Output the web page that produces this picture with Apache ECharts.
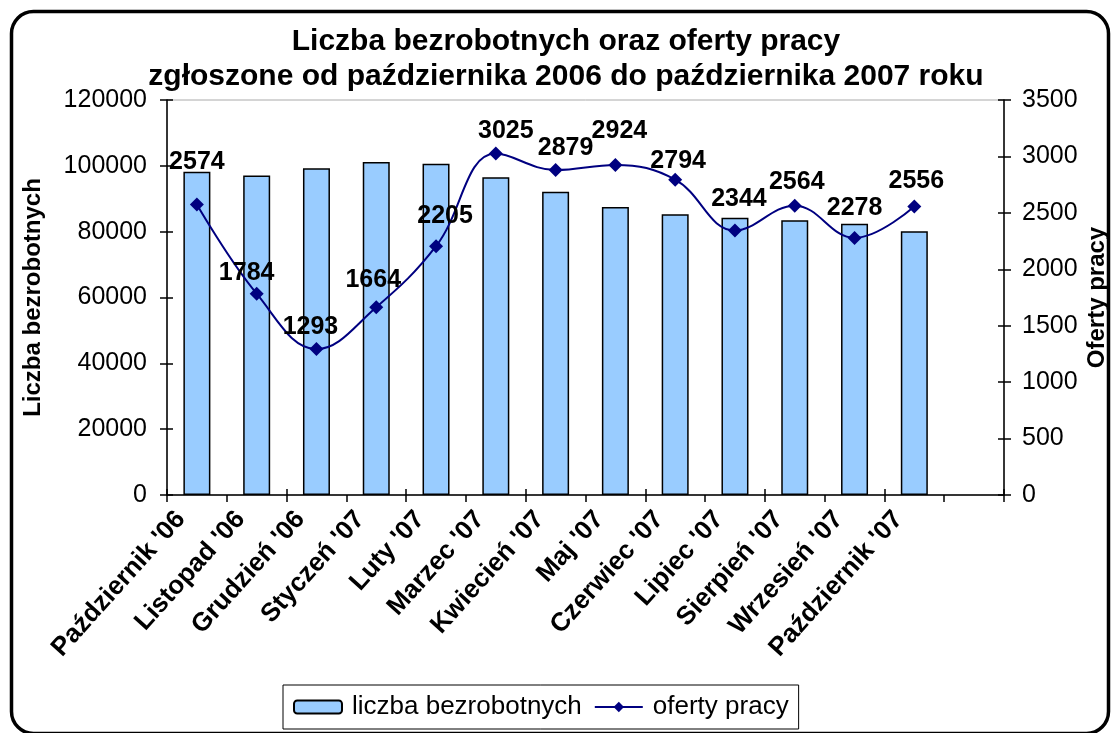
<!DOCTYPE html>
<html>
<head>
<meta charset="utf-8">
<script src="https://cdn.jsdelivr.net/npm/echarts@6/dist/echarts.min.js"></script>
<style>
html,body{margin:0;padding:0;background:#fff;}
#chart{width:1113px;height:733px;}
</style>
</head>
<body>
<div id="chart"></div>
<script>
const categories = ["Październik '06","Listopad '06","Grudzień '06","Styczeń '07","Luty '07","Marzec '07","Kwiecień '07","Maj '07","Czerwiec '07","Lipiec '07","Sierpień '07","Wrzesień '07","Październik '07",""];
const unemployed = [98200, 97100, 99300, 101200, 100600, 96500, 92100, 87500, 85300, 84200, 83500, 82400, 80100];
const jobOffers = [2574, 1784, 1293, 1664, 2205, 3025, 2879, 2924, 2794, 2344, 2564, 2278, 2556];
const titleLines = ["Liczba bezrobotnych oraz oferty pracy", "zgłoszone od października 2006 do października 2007 roku"];

// label nudges (style only): [dx, dy] in px for each data label of the line
const labelNudges = [[0,-15],[-10,7],[-6,6],[-3,0],[9,-3],[10,5],[10,6],[4,-6],[3,9],[4,-4],[2,4],[0,-2],[2,2]];

const FONT = "'Liberation Sans', Arial, sans-serif";
const chart = echarts.init(document.getElementById('chart'), null, {renderer: 'canvas'});

const axisLineStyle = {show: true, lineStyle: {color: '#000', width: 1.5}};
const plain = v => String(v);
const option = {
  backgroundColor: '#fff',
  animation: false,
  title: {
    text: titleLines.join('\n'),
    left: 561, top: 19, textAlign: 'center',
    textStyle: {fontFamily: FONT, fontWeight: 'bold', fontSize: 30, lineHeight: 35, color: '#000'}
  },
  legend: {
    left: 283, top: 685,
    padding: [9, 10, 9, 10],
    itemGap: 12, itemWidth: 48, itemHeight: 13,
    borderColor: '#000', borderWidth: 1,
    textStyle: {fontFamily: FONT, fontSize: 26, color: '#000', padding: [0, 0, 0, 5]},
    data: ['liczba bezrobotnych', 'oferty pracy']
  },
  grid: {left: 167, right: 109, top: 100, bottom: 238, containLabel: false, outerBoundsMode: 'none',
    show: true, borderColor: '#aaa', borderWidth: 1},
  xAxis: [{
    type: 'category', data: categories, boundaryGap: true,
    axisLine: axisLineStyle,
    axisTick: {show: true, alignWithLabel: false, length: 7, lineStyle: {color: '#000', width: 1.5}},
    axisLabel: {interval: 0, rotate: 48, margin: 2, padding: [0, 24, 0, 0], fontFamily: FONT, fontWeight: 'bold', fontSize: 26, color: '#000'}
  }, {
    type: 'category', data: categories, boundaryGap: true, position: 'bottom',
    axisLine: {show: false},
    axisTick: {show: true, inside: true, length: 6, lineStyle: {color: '#000', width: 1.5}},
    axisLabel: {show: false}
  }],
  yAxis: [{
    type: 'value', min: 0, max: 120000, interval: 20000, position: 'left',
    name: 'Liczba bezrobotnych', nameLocation: 'middle', nameGap: 122, nameRotate: 90,
    nameTextStyle: {fontFamily: FONT, fontWeight: 'bold', fontSize: 24, color: '#000'},
    axisLine: axisLineStyle,
    axisTick: {show: true, length: 7, lineStyle: {color: '#000', width: 1.5}},
    axisLabel: {margin: 20, formatter: plain, fontFamily: FONT, fontSize: 25, color: '#000'},
    splitLine: {show: false}
  }, {
    type: 'value', min: 0, max: 3500, interval: 500, position: 'right',
    name: 'Oferty pracy', nameLocation: 'middle', nameGap: 81, nameRotate: 90, nameMoveOverlap: false,
    nameTextStyle: {fontFamily: FONT, fontWeight: 'bold', fontSize: 24, color: '#000'},
    axisLine: axisLineStyle,
    axisTick: {show: true, length: 7, lineStyle: {color: '#000', width: 1.5}},
    axisLabel: {margin: 18, formatter: plain, fontFamily: FONT, fontSize: 25, color: '#000'},
    splitLine: {show: false}
  }, {
    type: 'value', min: 0, max: 120000, interval: 20000, position: 'left',
    axisLine: {show: false}, axisTick: {show: true, inside: true, length: 6, lineStyle: {color: '#000', width: 1.5}},
    axisLabel: {show: false}, splitLine: {show: false}
  }, {
    type: 'value', min: 0, max: 3500, interval: 500, position: 'right',
    axisLine: {show: false}, axisTick: {show: true, inside: true, length: 6, lineStyle: {color: '#000', width: 1.5}},
    axisLabel: {show: false}, splitLine: {show: false}
  }],
  series: [{
    name: 'liczba bezrobotnych', type: 'bar', xAxisIndex: 0, yAxisIndex: 0,
    data: unemployed, barWidth: 27,
    itemStyle: {color: '#99CCFF', borderColor: '#000', borderWidth: 1.5}
  }, {
    name: 'oferty pracy', type: 'line', xAxisIndex: 0, yAxisIndex: 1,
    data: jobOffers.map((v, i) => ({value: v, label: {offset: labelNudges[i]}})),
    smooth: 0.4,
    symbol: 'diamond', symbolSize: 14,
    lineStyle: {color: '#000080', width: 2},
    itemStyle: {color: '#000080'},
    label: {show: true, position: 'top', distance: 8, fontFamily: FONT, fontWeight: 'bold', fontSize: 25, color: '#000'}
  }],
  graphic: [{
    type: 'rect', left: 9, top: 9, silent: true,
    shape: {width: 1097, height: 722, r: 22},
    style: {fill: 'none', stroke: '#000', lineWidth: 3.5},
    z: 100
  }]
};
chart.setOption(option);
</script>
</body>
</html>
